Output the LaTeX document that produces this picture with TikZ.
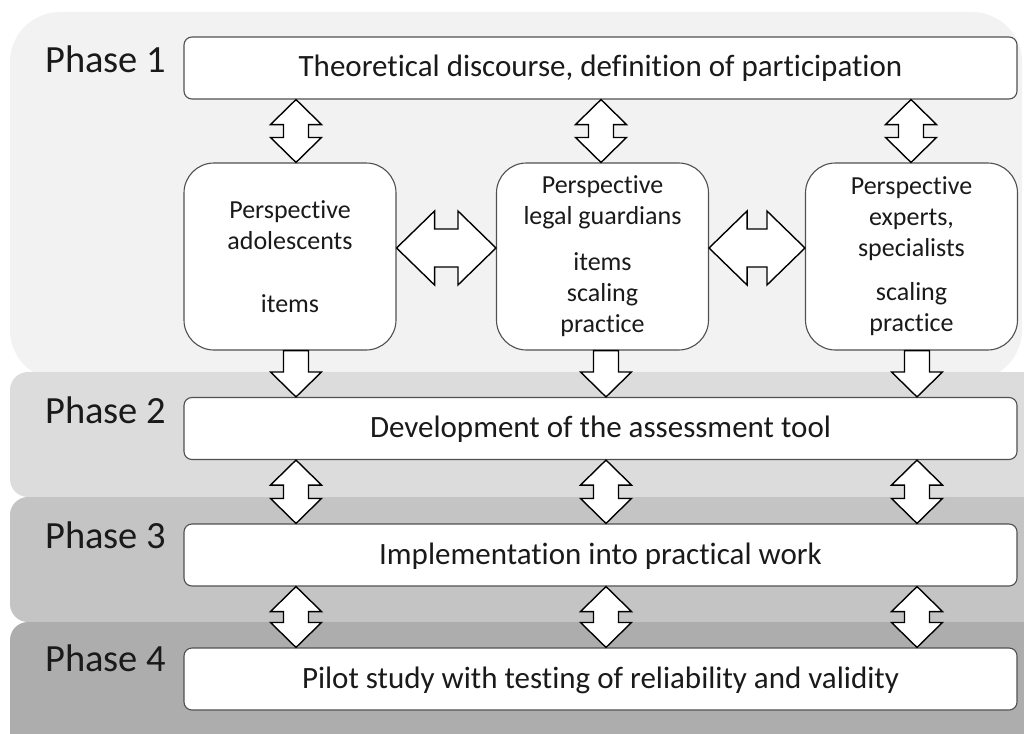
\documentclass[tikz,border=0pt]{standalone}
\usepackage{fontspec}
\setmainfont{Carlito}[Ligatures=NoCommon]
\usetikzlibrary{calc}
\definecolor{bandA}{HTML}{F2F2F2}
\definecolor{bandB}{HTML}{DCDCDC}
\definecolor{bandC}{HTML}{C4C4C4}
\definecolor{bandD}{HTML}{ADADAD}
\definecolor{boxline}{HTML}{505050}
\definecolor{txt}{HTML}{1A1A1A}
\newcommand\vdbl[2]{\draw[blk] let \p1=#1, \p2=#2 in
 (\x1,\y1) -- (\x1+25.5pt,\y1-25pt) -- (\x1+12.5pt,\y1-25pt) -- (\x1+12.5pt,\y2+25pt) -- (\x1+25.5pt,\y2+25pt) -- (\x1,\y2) -- (\x1-25.5pt,\y2+25pt) -- (\x1-12.5pt,\y2+25pt) -- (\x1-12.5pt,\y1-25pt) -- (\x1-25.5pt,\y1-25pt) -- cycle;}
\newcommand\hdbl[2]{\draw[blk] let \p1=#1, \p2=#2 in
 (\x1,\y1) -- (\x1+38pt,\y1+37pt) -- (\x1+38pt,\y1+19pt) -- (\x2-38pt,\y1+19pt) -- (\x2-38pt,\y1+37pt) -- (\x2,\y1) -- (\x2-38pt,\y1-37pt) -- (\x2-38pt,\y1-19pt) -- (\x1+38pt,\y1-19pt) -- (\x1+38pt,\y1-37pt) -- cycle;}
\newcommand\sdown[2]{\draw[blk] let \p1=#1, \p2=#2 in
 (\x1-12.5pt,\y1) -- (\x1+12.5pt,\y1) -- (\x1+12.5pt,\y2+25pt) -- (\x1+25.5pt,\y2+25pt) -- (\x1,\y2) -- (\x1-25.5pt,\y2+25pt) -- (\x1-12.5pt,\y2+25pt) -- cycle;}
\begin{document}
\begin{tikzpicture}[x=1pt,y=-1pt,
 box/.style={draw=boxline, line width=1.1pt, fill=white, rounded corners=8pt, minimum width=833pt, minimum height=62pt, inner sep=0pt, text=txt, font=\fontsize{31}{37}\selectfont, text height=24pt, text depth=6pt},
 persp/.style={draw=boxline, line width=1.1pt, fill=white, rounded corners=30pt, minimum width=212pt, minimum height=187pt, inner sep=0pt, align=center, text=txt, font=\fontsize{26}{31}\selectfont},
 phase/.style={anchor=base west, inner sep=0pt, text=txt, font=\fontsize{38.5}{42}\selectfont},
 blk/.style={draw=black, line width=1.4pt, fill=white, line join=miter}
]
\useasboundingbox (0,0) rectangle (1024,733);
\begin{scope}
\clip (0,0) rectangle (1024,733);
\fill[bandA, rounded corners=50pt] (10,12) rectangle (1022,380);
\fill[bandB, rounded corners=18pt] (10,372) rectangle (1060,497);
\fill[bandC, rounded corners=18pt] (10,497) rectangle (1060,622);
\fill[bandD, rounded corners=18pt] (10,622) rectangle (1060,780);
\end{scope}

\node[phase] (L1) at (45,73) {Phase 1};
\node[phase] (L2) at (45,423) {Phase 2};
\node[phase] (L3) at (45,548) {Phase 3};
\node[phase] (L4) at (45,671) {Phase 4};

\node[box] (T) at (600.5,68) {Theoretical discourse, definition of participation};
\node[persp] (A) at (290,256.5) {Perspective\\adolescents\\[32pt]items};
\node[persp] (B) at (602.5,256.5) {Perspective\\legal guardians\\[15pt]items\\scaling\\practice};
\node[persp] (C) at (911.5,256.5) {Perspective\\experts,\\specialists\\[13pt]scaling\\practice};
\node[box] (P2) at (600.5,428.5) {Development of the assessment tool};
\node[box] (P3) at (600.5,555) {Implementation into practical work};
\node[box] (P4) at (600.5,679) {Pilot study with testing of reliability and validity};

\coordinate (u1) at (296,0);
\coordinate (u2) at (601,0);
\coordinate (u3) at (911,0);
\coordinate (d1) at (296,0);
\coordinate (d2) at (606,0);
\coordinate (d3) at (917,0);
\coordinate (hr) at (0,248);

\vdbl{(T.south -| u1)}{(A.north -| u1)}
\vdbl{(T.south -| u2)}{(B.north -| u2)}
\vdbl{(T.south -| u3)}{(C.north -| u3)}
\hdbl{(A.east |- hr)}{(B.west |- hr)}
\hdbl{(B.east |- hr)}{(C.west |- hr)}
\sdown{(A.south -| d1)}{(P2.north -| d1)}
\sdown{(B.south -| d2)}{(P2.north -| d2)}
\sdown{(C.south -| d3)}{(P2.north -| d3)}
\vdbl{(P2.south -| d1)}{(P3.north -| d1)}
\vdbl{(P2.south -| d2)}{(P3.north -| d2)}
\vdbl{(P2.south -| d3)}{(P3.north -| d3)}
\vdbl{(P3.south -| d1)}{(P4.north -| d1)}
\vdbl{(P3.south -| d2)}{(P4.north -| d2)}
\vdbl{(P3.south -| d3)}{(P4.north -| d3)}
\end{tikzpicture}
\end{document}
